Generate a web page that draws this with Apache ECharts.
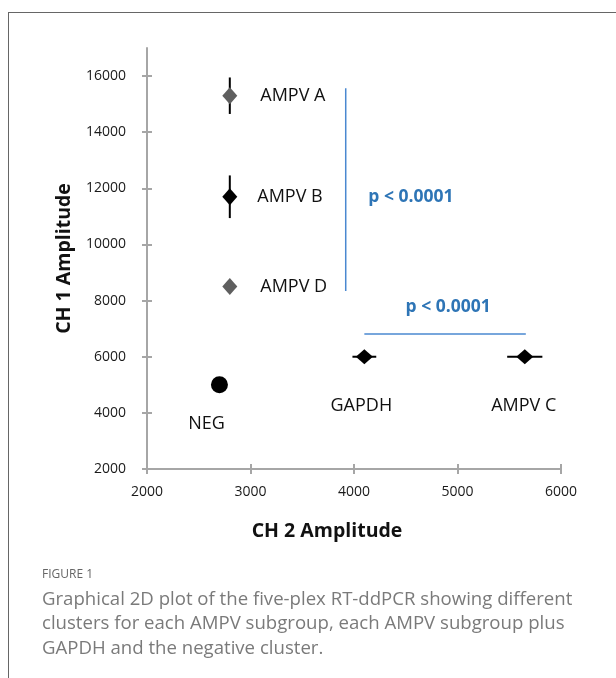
<!DOCTYPE html>
<html>
<head>
<meta charset="utf-8">
<script src="https://cdn.jsdelivr.net/npm/echarts@6/dist/echarts.min.js"></script>
<style>
html,body{margin:0;padding:0;background:#fff;}
#chart{width:616px;height:678px;}
</style>
</head>
<body>
<div id="chart"></div>
<script>
// ---- data ----
const clusterNames = ['AMPV A', 'AMPV B', 'AMPV D', 'NEG', 'GAPDH', 'AMPV C'];
const ch2Amplitude = [2800, 2800, 2800, 2700, 4100, 5650];
const ch1Amplitude = [15300, 11700, 8500, 5000, 6000, 6000];
const ch1Error = [650, 760, 0, 0, 0, 0];
const ch2Error = [0, 0, 0, 0, 115, 170];
const yTickValues = [2000, 4000, 6000, 8000, 10000, 12000, 14000, 16000];
const xTickValues = [2000, 3000, 4000, 5000, 6000];
const bracketVertical = [[3920, 15570], [3920, 8340]];
const bracketHorizontal = [[4100, 6810], [5660, 6810]];
const pValuePositions = [[4550, 11700], [4910, 7760]];
const pValueText = 'p < 0.0001';
const captionTitle = 'FIGURE 1';
const captionLines = [
  'Graphical 2D plot of the five-plex RT-ddPCR showing different',
  'clusters for each AMPV subgroup, each AMPV subgroup plus',
  'GAPDH and the negative cluster.'
];

// ---- styling ----
const FONT = '"Open Sans", "Liberation Sans", sans-serif';
const GRAY_MARK = '#5f5f5f';
const AXIS_COLOR = '#a6a6a6';
const BLUE = '#2e75b6';
const LINE_BLUE = '#4a88d0';

const markStyle = {
  'AMPV A': { color: GRAY_MARK, symbol: 'diamond', size: [15, 17], label: { position: 'right', distance: 23 } },
  'AMPV B': { color: '#000', symbol: 'diamond', size: [15, 17], label: { position: 'right', distance: 20 } },
  'AMPV D': { color: GRAY_MARK, symbol: 'diamond', size: [15, 17], label: { position: 'right', distance: 23 } },
  'NEG':    { color: '#000', symbol: 'circle', size: 17, label: { position: 'inside', offset: [-13, 39] } },
  'GAPDH':  { color: '#000', symbol: 'diamond', size: [17, 15], label: { position: 'inside', offset: [-3, 49] } },
  'AMPV C': { color: '#000', symbol: 'diamond', size: [17, 15], label: { position: 'inside', offset: [-1, 49] } }
};

const pointData = clusterNames.map((n, i) => {
  const s = markStyle[n];
  return {
    name: n,
    value: [ch2Amplitude[i], ch1Amplitude[i]],
    symbol: s.symbol,
    symbolSize: s.size,
    itemStyle: { color: s.color, opacity: 1 },
    label: Object.assign({ show: true, formatter: '{b}', color: '#111', fontSize: 18, fontFamily: FONT }, s.label)
  };
});

const errData = clusterNames.map((n, i) => [ch2Amplitude[i], ch1Amplitude[i], ch2Error[i], ch1Error[i]]);

const pData = pValuePositions.map(p => ({
  value: p,
  label: { show: true, position: 'inside', formatter: pValueText, color: BLUE, fontWeight: 'bold', fontSize: 17.5, fontFamily: FONT }
}));

const chart = echarts.init(document.getElementById('chart'), null, { renderer: 'canvas' });

const axisCommon = {
  type: 'value',
  splitLine: { show: false },
  axisLine: { show: true, lineStyle: { color: AXIS_COLOR, width: 2 } }
};
const plainNum = v => String(v);

const option = {
  backgroundColor: '#fff',
  animation: false,
  grid: { left: 147, right: 55, top: 48, bottom: 209, containLabel: false },
  xAxis: [
    Object.assign({}, axisCommon, {
      min: 2000, max: 6000, interval: 1000,
      name: 'CH 2 Amplitude', nameLocation: 'middle', nameGap: 52,
      nameTextStyle: { fontFamily: FONT, fontWeight: 'bold', fontSize: 19.5, color: '#111', verticalAlign: 'top', padding: [0, 54, 0, 0] },
      axisTick: { show: true, inside: false, length: 5, lineStyle: { color: AXIS_COLOR, width: 2 }, customValues: xTickValues },
      axisLabel: { fontFamily: FONT, fontSize: 14, color: '#1a1a1a', margin: 16, formatter: plainNum, customValues: xTickValues }
    }),
    Object.assign({}, axisCommon, {
      min: 2000, max: 6000, interval: 1000, position: 'bottom',
      axisLine: { show: false },
      axisTick: { show: true, inside: true, length: 5, lineStyle: { color: AXIS_COLOR, width: 2 }, customValues: xTickValues },
      axisLabel: { show: false }
    })
  ],
  yAxis: [
    Object.assign({}, axisCommon, {
      min: 2000, max: 17000, interval: 2000,
      name: 'CH 1 Amplitude', nameLocation: 'middle', nameGap: 73, nameRotate: 90,
      nameTextStyle: { fontFamily: FONT, fontWeight: 'bold', fontSize: 19.5, color: '#111' },
      axisTick: { show: true, inside: false, length: 5, lineStyle: { color: AXIS_COLOR, width: 2 }, customValues: yTickValues },
      axisLabel: { fontFamily: FONT, fontSize: 14, color: '#1a1a1a', margin: 21, formatter: plainNum, customValues: yTickValues }
    }),
    Object.assign({}, axisCommon, {
      min: 2000, max: 17000, interval: 2000, position: 'left',
      axisLine: { show: false },
      axisTick: { show: true, inside: true, length: 5, lineStyle: { color: AXIS_COLOR, width: 2 }, customValues: yTickValues },
      axisLabel: { show: false }
    })
  ],
  series: [
    {
      type: 'custom',
      name: 'error',
      xAxisIndex: 0, yAxisIndex: 0,
      z: 2,
      silent: true,
      data: errData,
      renderItem: function (params, api) {
        const x = api.value(0), y = api.value(1), ex = api.value(2), ey = api.value(3);
        const children = [];
        const st = { stroke: '#000', lineWidth: 2 };
        if (ey > 0) {
          const a = api.coord([x, y + ey]), b = api.coord([x, y - ey]);
          children.push({ type: 'line', shape: { x1: a[0], y1: a[1], x2: b[0], y2: b[1] }, style: st });
        }
        if (ex > 0) {
          const a = api.coord([x - ex, y]), b = api.coord([x + ex, y]);
          children.push({ type: 'line', shape: { x1: a[0], y1: a[1], x2: b[0], y2: b[1] }, style: st });
        }
        return { type: 'group', children: children };
      }
    },
    {
      type: 'scatter',
      name: 'clusters',
      xAxisIndex: 0, yAxisIndex: 0,
      z: 3,
      itemStyle: { opacity: 1 },
      data: pointData
    },
    {
      type: 'line',
      name: 'bracket1',
      xAxisIndex: 0, yAxisIndex: 0,
      data: bracketVertical,
      symbol: 'none',
      silent: true,
      lineStyle: { color: LINE_BLUE, width: 1.5, opacity: 1 },
      z: 1
    },
    {
      type: 'line',
      name: 'bracket2',
      xAxisIndex: 0, yAxisIndex: 0,
      data: bracketHorizontal,
      symbol: 'none',
      silent: true,
      lineStyle: { color: LINE_BLUE, width: 1.5, opacity: 1 },
      z: 1
    },
    {
      type: 'scatter',
      name: 'pvalues',
      xAxisIndex: 0, yAxisIndex: 0,
      symbolSize: 0,
      silent: true,
      itemStyle: { opacity: 1 },
      data: pData
    }
  ],
  graphic: [
    { type: 'line', shape: { x1: 8, y1: 12.5, x2: 616, y2: 12.5 }, style: { stroke: '#666', lineWidth: 1 } },
    { type: 'line', shape: { x1: 8.5, y1: 12, x2: 8.5, y2: 678 }, style: { stroke: '#666', lineWidth: 1 } },
    { type: 'text', left: 42, top: 569, style: { text: captionTitle, fill: '#666', font: '500 12px ' + FONT } },
    { type: 'text', left: 42, top: 587, style: { text: captionLines.join('\n'), fill: '#7a7a7a', font: '18.6px ' + FONT, lineHeight: 24.5 } }
  ]
};

chart.setOption(option);
</script>
</body>
</html>
